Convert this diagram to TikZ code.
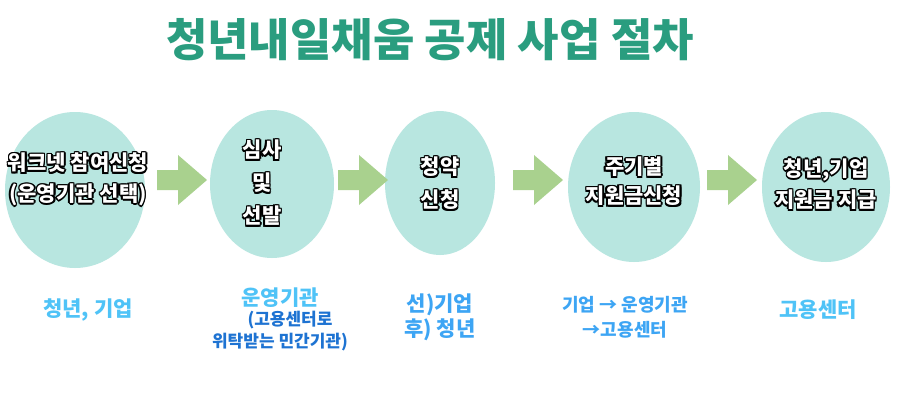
\documentclass[tikz,border=0pt]{standalone}
\usepackage{fontspec}
\setmainfont{Noto Sans CJK KR}
\definecolor{circfill}{HTML}{B8E6E0}
\definecolor{arr}{HTML}{A9D18E}
\definecolor{ttl}{HTML}{2A9D7F}
\definecolor{lbl}{HTML}{4FC3F7}
\definecolor{dbl}{HTML}{1E73D2}
\definecolor{mbl}{HTML}{3DA5F4}
\newcommand{\otext}[3]{%
  \foreach \dx/\dy in {-1.6/0,1.6/0,0/-1.6,0/1.6,-1.2/-1.2,1.2/1.2,-1.2/1.2,1.2/-1.2}
    \node[font=\bfseries\fontsize{21}{24}\selectfont,text=black] at ([shift={(\dx,\dy)}]#1) {#3};
  \node[font=\bfseries\fontsize{21}{24}\selectfont,text=white] (#2) at (#1) {#3};}
\begin{document}
\begin{tikzpicture}[x=1pt,y=-1pt,
  lab/.style={font=\bfseries\fontsize{21}{24}\selectfont,text=lbl},
  sub/.style={font=\bfseries\fontsize{17}{20}\selectfont,text=dbl},
  mid/.style={font=\bfseries\fontsize{18}{20}\selectfont,text=mbl}]
\useasboundingbox (0,0) rectangle (900,400);
\fill[white] (0,0) rectangle (900,400);
\node[font=\bfseries\fontsize{45}{50}\selectfont,text=ttl] (title) at (430,40) {청년내일채움 공제 사업 절차};
\fill[circfill] (75,190) ellipse [x radius=70,y radius=78];
\fill[circfill] (272,184) ellipse [x radius=62,y radius=74];
\fill[circfill] (440,183) ellipse [x radius=55,y radius=72];
\fill[circfill] (634,187) ellipse [x radius=66,y radius=75];
\fill[circfill] (826,187) ellipse [x radius=64,y radius=75];
\foreach \x in {157,338,513,707}
  \fill[arr] (\x,170) -- (\x+21,170) -- (\x+21,155) -- (\x+50,180) -- (\x+21,205) -- (\x+21,190) -- (\x,190) -- cycle;
\otext{78,163}{a1}{워크넷 참여신청}
\otext{78,195}{a2}{(운영기관 선택)}
\otext{262,150}{b1}{심사}
\otext{262,183}{b2}{및}
\otext{262,216}{b3}{선발}
\otext{440,167}{c1}{청약}
\otext{440,200}{c2}{신청}
\otext{634,167}{d1}{주기별}
\otext{634,196}{d2}{지원금신청}
\otext{826,170}{e1}{청년,기업}
\otext{826,200}{e2}{지원금 지급}
\node[lab] (l1) at (88,310) {청년, 기업};
\node[lab] (l2) at (280,298) {운영기관};
\node[sub] (l2b) at (290,320) {(고용센터로};
\node[sub] (l2c) at (280,342) {위탁받는 민간기관)};
\node[lab,text=mbl] (l3) at (440,305) {선)기업};
\node[lab,text=mbl] (l3b) at (440,330) {후) 청년};
\node[mid] (l4) at (625,305) {기업 → 운영기관};
\node[mid] (l4b) at (625,330) {→고용센터};
\node[lab] (l5) at (818,310) {고용센터};
\end{tikzpicture}
\end{document}
